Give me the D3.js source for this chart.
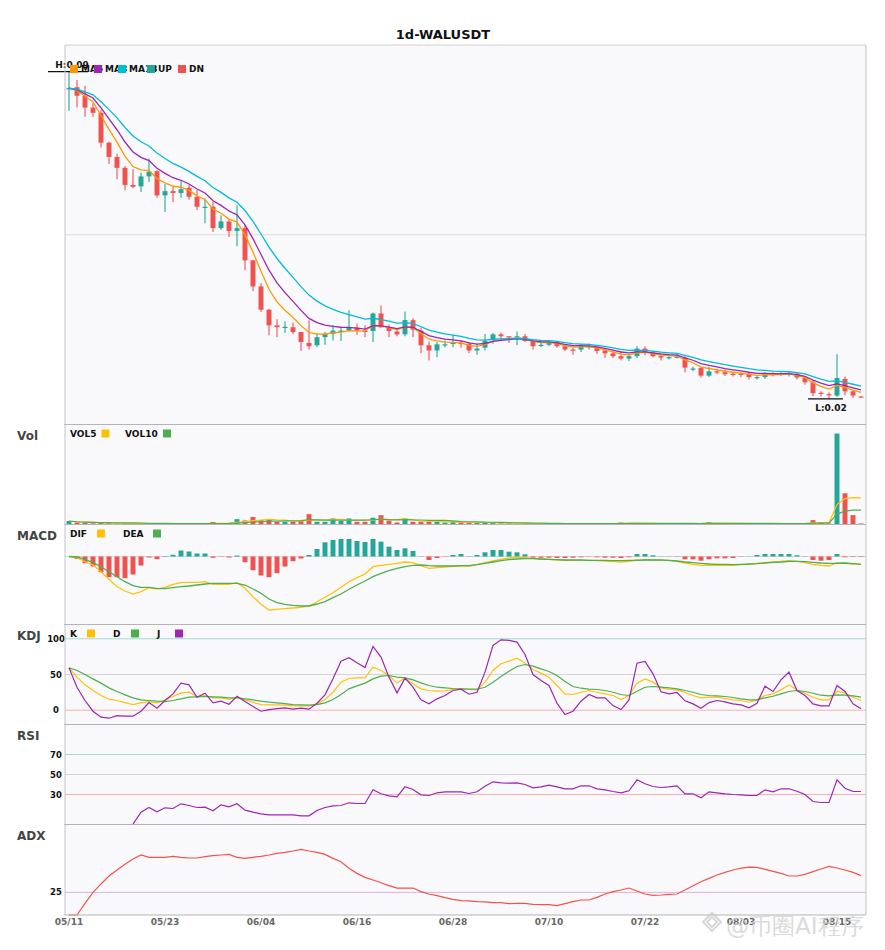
<!DOCTYPE html>
<html><head><meta charset="utf-8">
<script src="https://cdn.jsdelivr.net/npm/d3@7"></script>
<style>body{margin:0;background:#fff}svg{display:block}text{font-family:"DejaVu Sans",sans-serif}</style>
</head><body><div id="chart"></div>
<script>
const symbol = "1d-WALUSDT";
const startDate = new Date(2025, 4, 11);
const tickLabels = ["05/11","05/23","06/04","06/16","06/28","07/10","07/22","08/03","08/15"];

const opens = [
.0858,.0861,.0843,.0818,.0807,.0744,.0714,.0691,.0655,.0652,
.0673,.0684,.0633,.0642,.0638,.0649,.0630,.0608,.0609,.0564,
.0578,.0558,.0564,.0496,.0441,.0392,.0359,.0355,.0355,.0345,
.0322,.0317,.0334,.0341,.0347,.0348,.0354,.0348,.0347,.0384,
.0355,.0346,.0340,.0370,.0348,.0317,.0306,.0318,.0320,.0322,
.0320,.0306,.0312,.0329,.0340,.0336,.0334,.0336,.0326,.0317,
.0318,.0324,.0315,.0308,.0308,.0313,.0313,.0306,.0300,.0294,
.0289,.0294,.0310,.0302,.0294,.0291,.0291,.0291,.0267,.0269,
.0253,.0262,.0260,.0257,.0257,.0257,.0249,.0250,.0257,.0256,
.0256,.0257,.0248,.0239,.0217,.0214,.0211,.0246,.0220,.0209];
const highs = [
.0894,.0876,.0864,.0827,.0813,.0746,.0721,.0695,.0688,.0681,
.0711,.0686,.0657,.0652,.0663,.0655,.0644,.0626,.0619,.0591,
.0582,.0612,.0570,.0496,.0448,.0394,.0372,.0367,.0365,.0345,
.0370,.0343,.0345,.0360,.0355,.0391,.0363,.0359,.0386,.0401,
.0361,.0350,.0388,.0374,.0354,.0325,.0324,.0327,.0339,.0327,
.0324,.0320,.0341,.0343,.0344,.0336,.0346,.0341,.0329,.0324,
.0327,.0326,.0318,.0312,.0320,.0320,.0317,.0310,.0305,.0305,
.0299,.0315,.0315,.0305,.0299,.0294,.0299,.0294,.0272,.0271,
.0272,.0268,.0266,.0260,.0260,.0259,.0253,.0260,.0260,.0260,
.0260,.0259,.0251,.0243,.0220,.0218,.0298,.0251,.0220,.0210];
const lows = [
.0811,.0818,.0799,.0799,.0734,.0699,.0667,.0644,.0648,.0640,
.0661,.0628,.0598,.0619,.0628,.0624,.0602,.0574,.0556,.0560,
.0545,.0526,.0475,.0431,.0387,.0338,.0334,.0343,.0340,.0305,
.0308,.0313,.0318,.0327,.0326,.0345,.0339,.0334,.0324,.0354,
.0334,.0336,.0336,.0334,.0300,.0285,.0292,.0313,.0313,.0312,
.0300,.0297,.0306,.0320,.0329,.0322,.0317,.0324,.0308,.0313,
.0315,.0312,.0305,.0297,.0303,.0308,.0299,.0290,.0290,.0285,
.0284,.0290,.0296,.0292,.0285,.0287,.0289,.0260,.0262,.0249,
.0250,.0256,.0252,.0251,.0250,.0245,.0245,.0246,.0251,.0252,
.0251,.0245,.0234,.0210,.0209,.0204,.0208,.0211,.0206,.0208];
const closes = [
.0859,.0843,.0818,.0807,.0744,.0714,.0691,.0655,.0651,.0673,
.0683,.0633,.0642,.0638,.0646,.0630,.0609,.0609,.0564,.0578,
.0558,.0564,.0496,.0441,.0392,.0359,.0355,.0356,.0345,.0324,
.0315,.0334,.0341,.0348,.0348,.0354,.0347,.0345,.0384,.0355,
.0347,.0340,.0370,.0350,.0317,.0306,.0319,.0319,.0322,.0320,
.0306,.0310,.0326,.0340,.0336,.0334,.0336,.0326,.0315,.0318,
.0324,.0315,.0308,.0307,.0315,.0315,.0305,.0300,.0294,.0289,
.0294,.0310,.0303,.0294,.0291,.0292,.0293,.0270,.0268,.0253,
.0262,.0260,.0256,.0256,.0255,.0250,.0250,.0257,.0255,.0257,
.0257,.0249,.0239,.0216,.0215,.0213,.0248,.0220,.0211,.0208];
// volume, millions
const volumes = [
3.5,2.0,1.5,1.2,1.5,1.3,1.2,1.0,0.8,0.8,
0.8,1.0,0.8,0.6,0.8,0.6,0.8,1.0,2.5,1.0,
1.2,5.3,4.0,7.5,4.3,5.0,2.7,2.7,2.7,3.7,
10.3,2.7,2.7,6.0,3.7,6.0,2.7,2.7,6.7,9.3,
3.7,2.0,6.0,2.7,2.7,2.7,2.7,2.0,2.7,2.0,
2.0,2.0,1.8,1.5,1.2,1.0,1.0,0.9,0.9,0.8,
0.8,0.9,0.8,0.8,0.9,0.8,0.8,1.3,1.0,2.0,
1.0,1.2,1.0,0.9,0.8,0.8,0.8,1.5,0.8,1.2,
2.3,0.8,0.8,0.8,0.8,0.9,0.8,1.0,0.8,0.8,
0.8,1.0,1.0,4.3,2.3,1.0,90.3,31.0,9.3,1.0];
const difValues = [
0,-0.00012,-0.00052,-0.00085,-0.00152,-0.00228,-0.00302,-0.00345,-0.00375,-0.00352,
-0.00312,-0.00325,-0.00308,-0.00278,-0.00262,-0.00258,-0.00258,-0.00252,-0.00278,-0.00278,
-0.00278,-0.00262,-0.00318,-0.00402,-0.00478,-0.00535,-0.00528,-0.00522,-0.00515,-0.00508,
-0.00495,-0.00452,-0.00408,-0.00362,-0.00308,-0.00252,-0.00212,-0.00175,-0.00102,-0.00088,
-0.00078,-0.00068,-0.00055,-0.00062,-0.00092,-0.00118,-0.00112,-0.00105,-0.00098,-0.00095,
-0.00095,-0.00082,-0.00062,-0.00045,-0.00028,-0.00015,-0.00008,-0.00012,-0.00018,-0.00025,
-0.00028,-0.00035,-0.00038,-0.00038,-0.00038,-0.00038,-0.00042,-0.00045,-0.00048,-0.00055,
-0.00048,-0.00035,-0.00032,-0.00035,-0.00038,-0.00038,-0.00048,-0.00065,-0.00078,-0.00088,
-0.00088,-0.00088,-0.00088,-0.00088,-0.00082,-0.00078,-0.00068,-0.00062,-0.00055,-0.00048,
-0.00042,-0.00048,-0.00062,-0.00078,-0.00088,-0.00095,-0.00062,-0.00068,-0.00075,-0.00078];
const deaValues = [
0,-0.00005,-0.00028,-0.00062,-0.00102,-0.00152,-0.00202,-0.00252,-0.00292,-0.00308,
-0.00308,-0.00318,-0.00322,-0.00312,-0.00302,-0.00295,-0.00285,-0.00275,-0.00268,-0.00268,
-0.00268,-0.00268,-0.00285,-0.00325,-0.00368,-0.00425,-0.00462,-0.00478,-0.00488,-0.00495,
-0.00495,-0.00475,-0.00452,-0.00412,-0.00375,-0.00328,-0.00285,-0.00245,-0.00202,-0.00168,
-0.00142,-0.00118,-0.00102,-0.00088,-0.00085,-0.00092,-0.00095,-0.00095,-0.00095,-0.00092,
-0.00092,-0.00082,-0.00068,-0.00055,-0.00042,-0.00032,-0.00025,-0.00022,-0.00022,-0.00025,
-0.00028,-0.00032,-0.00035,-0.00035,-0.00035,-0.00038,-0.00038,-0.00038,-0.00042,-0.00042,
-0.00038,-0.00038,-0.00035,-0.00035,-0.00035,-0.00038,-0.00045,-0.00055,-0.00062,-0.00068,
-0.00075,-0.00078,-0.00078,-0.00082,-0.00078,-0.00075,-0.00072,-0.00065,-0.00058,-0.00055,
-0.00048,-0.00048,-0.00052,-0.00058,-0.00065,-0.00068,-0.00068,-0.00065,-0.00072,-0.00078];
const macdHist = [
0,-0.00023,-0.00067,-0.00100,-0.00157,-0.00207,-0.00207,-0.00217,-0.00180,-0.00090,
-0.00010,-0.00027,0.00005,0.00017,0.00060,0.00050,0.00030,0.00030,-0.00013,-0.00003,
-0.00010,0.00010,-0.00057,-0.00137,-0.00190,-0.00207,-0.00167,-0.00100,-0.00047,-0.00020,
0.00015,0.00075,0.00142,0.00165,0.00175,0.00175,0.00155,0.00145,0.00175,0.00148,
0.00098,0.00065,0.00082,0.00055,-0.00003,-0.00035,-0.00015,-0.00003,0.00015,0.00025,
0.00003,0.00015,0.00042,0.00065,0.00065,0.00048,0.00042,0.00022,-0.00012,-0.00012,
-0.00012,-0.00015,-0.00015,-0.00012,-0.00008,-0.00002,-0.00008,-0.00012,-0.00012,-0.00015,
-0.00008,0.00025,0.00025,0.00012,0.00002,0.00002,-0.00003,-0.00028,-0.00028,-0.00042,
-0.00028,-0.00018,-0.00018,-0.00015,-0.00003,0.00002,0.00015,0.00025,0.00025,0.00025,
0.00025,0.00012,-0.00003,-0.00035,-0.00042,-0.00035,0.00025,-0.00008,-0.00005,-0.00005];
const kValues = [
59.3,46.3,35.5,27.6,20.6,15.4,13.6,10.7,7.9,10.3,
12.1,10.3,14.5,19.2,24.3,25.2,19.2,20.6,17.3,17.3,
15.0,18.2,14.5,11.2,7.9,7.5,7.5,7.0,6.1,6.1,
6.1,8.9,15.0,25.2,39.3,44.4,45.3,45.3,60.3,55.6,
48.6,38.3,44.9,36.9,29.9,27.6,26.6,27.1,29.0,29.9,
29.0,28.5,39.3,55.6,65.0,68.7,72.9,65.9,57.0,51.9,
46.3,34.6,22.9,22.0,25.2,27.6,25.2,22.9,20.6,15.0,
20.6,37.9,43.9,39.3,31.3,29.0,28.5,24.8,20.6,17.3,
18.2,18.2,16.4,14.5,13.6,11.2,14.5,20.6,22.9,28.5,
35.5,28.5,23.8,18.2,14.5,14.5,26.2,24.3,18.2,13.6];
const dValues = [
59.3,55.6,50.0,43.9,37.9,31.3,26.2,21.5,17.3,14.5,
13.6,12.6,12.1,13.6,15.9,18.2,18.7,19.2,18.7,18.2,
17.3,17.3,15.9,14.5,12.6,11.2,10.3,9.3,7.9,7.5,
7.0,7.9,10.3,15.0,22.0,29.9,34.1,37.9,43.9,47.7,
48.6,46.3,45.3,42.5,38.3,34.6,32.2,31.3,30.4,29.9,
29.4,29.4,32.2,39.3,47.2,54.7,61.2,64.0,61.7,57.9,
54.2,48.6,40.2,33.2,30.8,29.4,29.0,27.6,25.2,22.0,
20.6,26.6,32.2,33.2,32.2,31.3,29.9,27.6,25.2,22.0,
20.6,20.1,19.2,17.8,15.9,14.5,14.5,17.3,19.6,22.9,
26.2,27.6,26.2,23.8,21.0,20.1,21.5,21.0,20.1,18.2];
const jValues = [
59.3,32.2,13.6,-1.4,-9.8,-11.2,-7.5,-8.4,-8.4,-1.4,
10.7,2.8,13.6,22.9,37.9,35.5,18.2,23.8,10.3,12.6,
8.4,19.6,12.1,5.1,-1.4,0.9,2.3,3.3,1.4,2.8,
1.4,9.8,21.5,43.9,68.7,73.4,66.4,59.8,89.3,74.3,
46.3,24.3,44.9,32.2,14.5,8.9,15.9,20.6,27.6,29.4,
22.4,25.2,53.3,90.7,98.6,97.7,95.3,78.0,50.0,41.6,
34.6,9.8,-6.1,-1.4,12.6,22.0,17.3,17.3,6.5,0.9,
14.5,65.9,68.2,50.9,25.7,22.9,24.8,13.1,8.9,2.8,
10.7,13.6,11.7,8.9,7.5,3.3,9.8,33.6,26.2,42.5,
53.3,27.6,20.6,8.9,6.1,6.1,34.6,26.2,8.9,1.9];
const rsiValues = [null,null,null,null,null,null,null,null,
0.3,12.3,17.0,12.7,16.7,16.0,20.7,19.0,17.0,17.3,
13.7,19.7,17.7,20.7,14.3,12.3,10.7,9.7,9.7,9.7,
9.7,8.7,8.7,14.0,17.0,18.7,19.0,21.7,21.0,21.0,
34.7,30.7,28.7,27.7,37.7,35.0,29.7,29.0,31.7,32.7,
32.7,32.7,31.0,32.7,38.3,42.7,41.7,41.3,41.7,40.0,
36.7,37.7,39.3,37.7,35.7,35.7,38.7,38.7,35.7,34.7,
33.0,31.7,33.7,44.7,40.7,38.0,37.0,37.7,38.7,30.7,
30.7,26.7,32.7,31.7,30.7,30.0,29.7,29.0,29.0,34.7,
32.7,35.7,35.7,33.3,30.0,23.0,22.0,22.0,44.7,36.3,
33.0,33.0];
const adxValues = [
0,0,12.9,25.0,34.3,43.1,49.7,56.0,61.9,66.3,
63.7,63.7,63.7,64.8,63.7,63.0,63.0,64.5,65.6,66.3,
67.0,63.7,62.6,63.7,64.8,66.3,68.1,69.2,70.7,72.5,
70.7,69.2,67.0,62.6,58.9,51.6,46.0,41.6,38.7,35.7,
32.4,29.8,29.8,29.8,25.8,23.2,21.4,19.2,17.3,15.8,
15.5,14.7,14.4,13.6,13.6,12.5,12.9,12.9,11.8,11.4,
11.4,10.3,12.5,14.7,16.6,16.6,19.5,23.2,25.8,27.6,
29.8,26.5,23.2,21.7,22.1,22.8,23.2,27.6,32.4,36.8,
40.5,44.2,47.1,49.7,51.9,53.0,52.7,50.4,48.2,46.0,
43.1,43.1,44.9,47.9,50.8,53.8,51.9,49.7,47.1,43.5];
const maPeriods = [5, 8, 13];
const volMaPeriods = [5, 10];

// ---------- styles / layout ----------
const C = {up:"#26a69a", dn:"#ef5350", ma:["#ff9800","#9c27b0","#00bcd4"],
  yel:"#ffc107", grn:"#4caf50", pur:"#9c27b0", adx:"#f4514b",
  bg:"#f9f9fc", sep:"#b4b4b8", hi:"#a3d9d4", mid:"#d4d4d8", lo:"#f6b2b2", adx25:"#ddb0e4"};
const W = 885, H = 950, L = 65, R = 866;
const P = {main:[45,424.5], vol:[424.5,524.5], macd:[524.5,624.5], kdj:[624.5,724.5], rsi:[724.5,824.5], adx:[824.5,915]};
const n = closes.length;
const dates = d3.timeDay.range(startDate, d3.timeDay.offset(startDate, n));
const fmtDate = d3.timeFormat("%m/%d");

const ema = (arr, p) => { const a = 2/(p+1), out = []; arr.forEach((v,i)=>out.push(i===0 ? v : out[i-1] + a*(v-out[i-1]))); return out; };
const sma = (arr, p) => arr.map((v,i)=>d3.mean(arr.slice(Math.max(0,i-p+1), i+1)));

const svg = d3.select("#chart").append("svg").attr("width",W).attr("height",H);
const x = d3.scaleBand().domain(d3.range(n)).range([L, L+8*n]);
const cx = i => x(i) + x.bandwidth()/2;
const bw = x.bandwidth()*0.62;
const isUp = i => closes[i] >= opens[i];

svg.append("rect").attr("x",L).attr("y",P.main[0]).attr("width",R-L).attr("height",P.adx[1]-P.main[0]).attr("fill",C.bg);

svg.append("text").attr("x",443).attr("y",39).attr("text-anchor","middle")
  .attr("font-size",13).attr("font-weight","bold").attr("fill","#111").text(symbol);

// ---------- main ----------
const yP = d3.scaleLinear().domain([0.015, 0.095]).range([P.main[1], P.main[0]]);
svg.append("line").attr("x1",L).attr("x2",R).attr("y1",yP(0.055)).attr("y2",yP(0.055)).attr("stroke","#dcdce0");
const gC = svg.append("g");
gC.selectAll("line").data(d3.range(n)).join("line")
  .attr("x1",cx).attr("x2",cx).attr("y1",i=>yP(highs[i])).attr("y2",i=>yP(lows[i]))
  .attr("stroke",i=>isUp(i)?C.up:C.dn).attr("stroke-width",1.1);
gC.selectAll("rect").data(d3.range(n)).join("rect")
  .attr("x",i=>cx(i)-bw/2).attr("width",bw)
  .attr("y",i=>yP(Math.max(opens[i],closes[i])))
  .attr("height",i=>Math.max(1.2, Math.abs(yP(opens[i])-yP(closes[i]))))
  .attr("fill",i=>isUp(i)?C.up:C.dn);
maPeriods.forEach((p,k)=>{
  const m = ema(closes, p);
  svg.append("path").datum(d3.range(n)).attr("fill","none").attr("stroke",C.ma[k]).attr("stroke-width",1.3)
    .attr("d", d3.line().x(cx).y(i=>yP(m[i])));
});
// high / low markers
const hiI = d3.maxIndex(highs), loI = d3.minIndex(lows);
svg.append("line").attr("x1",cx(hiI)-21).attr("x2",cx(hiI)+19).attr("y1",yP(highs[hiI])).attr("y2",yP(highs[hiI])).attr("stroke","#111").attr("stroke-width",1.2);
svg.append("text").attr("x",cx(hiI)+3).attr("y",yP(highs[hiI])-3.5).attr("text-anchor","middle").attr("font-size",9).attr("font-weight","bold").attr("fill","#111").text("H:"+d3.format(".2f")(highs[hiI]));
svg.append("line").attr("x1",cx(loI)-21).attr("x2",cx(loI)+14).attr("y1",yP(lows[loI])).attr("y2",yP(lows[loI])).attr("stroke","#111").attr("stroke-width",1.2);
svg.append("text").attr("x",cx(loI)+2).attr("y",yP(lows[loI])+12).attr("text-anchor","middle").attr("font-size",9).attr("font-weight","bold").attr("fill","#111").text("L:"+d3.format(".2f")(lows[loI]));
// main legend
const mainLeg = [{t:"MA"+maPeriods[0],c:C.ma[0],x:70},{t:"MA"+maPeriods[1],c:C.ma[1],x:94},{t:"MA"+maPeriods[2],c:C.ma[2],x:118},{t:"UP",c:C.up,x:147},{t:"DN",c:C.dn,x:178}];
mainLeg.forEach(d=>svg.append("text").attr("x",d.x+11).attr("y",72).attr("font-size",9).attr("font-weight","bold").attr("fill","#111").text(d.t));
mainLeg.forEach(d=>svg.append("rect").attr("x",d.x).attr("y",65).attr("width",8).attr("height",8).attr("fill",d.c));

// ---------- helpers ----------
function panelLabel(t, top){ svg.append("text").attr("x",17).attr("y",top+15).attr("font-size",12).attr("font-weight","bold").attr("fill","#444").text(t); }
function legend(items, top){
  items.forEach(d=>{
    svg.append("text").attr("x",d.x).attr("y",top+12).attr("font-size",9).attr("font-weight","bold").attr("fill","#111").text(d.t);
    svg.append("rect").attr("x",d.sq).attr("y",top+5).attr("width",8).attr("height",8).attr("fill",d.c);
  });
}
function hline(y, color){ svg.append("line").attr("x1",L).attr("x2",R).attr("y1",y).attr("y2",y).attr("stroke",color).attr("stroke-width",1); }
function ylab(y, t){ svg.append("text").attr("x",56).attr("y",y+3).attr("text-anchor","middle").attr("font-size",8.5).attr("font-weight","bold").attr("fill","#111").text(t); }
function drawLine(vals, y, color, w){
  svg.append("path").datum(d3.range(n)).attr("fill","none").attr("stroke",color).attr("stroke-width",w||1.2)
    .attr("d", d3.line().defined(i=>vals[i]!=null).x(cx).y(i=>y(vals[i])));
}

// ---------- volume ----------
const yV = d3.scaleLinear().domain([0, d3.max(volumes)*1.1]).range([P.vol[1], P.vol[0]]);
svg.append("g").selectAll("rect").data(d3.range(n)).join("rect")
  .attr("x",i=>cx(i)-bw/2).attr("width",bw).attr("y",i=>yV(volumes[i]))
  .attr("height",i=>yV(0)-yV(volumes[i])).attr("fill",i=>isUp(i)?C.up:C.dn);
drawLine(sma(volumes, volMaPeriods[0]), yV, C.yel, 1.2);
drawLine(sma(volumes, volMaPeriods[1]), yV, C.grn, 1.2);
panelLabel("Vol", P.vol[0]);
legend([{t:"VOL"+volMaPeriods[0],c:C.yel,x:70,sq:101.5},{t:"VOL"+volMaPeriods[1],c:C.grn,x:125,sq:163}], P.vol[0]);

// ---------- MACD ----------
const yM = d3.scaleLinear().domain([-0.0068, 0.0032]).range([P.macd[1], P.macd[0]]);
hline(yM(0), C.mid);
svg.append("g").selectAll("rect").data(d3.range(n)).join("rect")
  .attr("x",i=>cx(i)-bw/2).attr("width",bw)
  .attr("y",i=>Math.min(yM(0), yM(macdHist[i])))
  .attr("height",i=>Math.abs(yM(macdHist[i])-yM(0)))
  .attr("fill",i=>macdHist[i]>=0?C.up:C.dn);
drawLine(difValues, yM, C.yel, 1.3);
drawLine(deaValues, yM, C.grn, 1.3);
panelLabel("MACD", P.macd[0]);
legend([{t:"DIF",c:C.yel,x:70,sq:97},{t:"DEA",c:C.grn,x:123,sq:153}], P.macd[0]);

// ---------- KDJ ----------
const yK = d3.scaleLinear().domain([-20, 120]).range([P.kdj[1], P.kdj[0]]);
hline(yK(100), C.hi); hline(yK(50), C.mid); hline(yK(0), C.lo);
[100,50,0].forEach(v=>ylab(yK(v), v));
drawLine(kValues, yK, C.yel, 1.2);
drawLine(dValues, yK, C.grn, 1.2);
drawLine(jValues, yK, C.pur, 1.2);
panelLabel("KDJ", P.kdj[0]);
legend([{t:"K",c:C.yel,x:70,sq:87},{t:"D",c:C.grn,x:113,sq:131},{t:"J",c:C.pur,x:157,sq:175}], P.kdj[0]);

// ---------- RSI ----------
const yR = d3.scaleLinear().domain([0, 100]).range([P.rsi[1], P.rsi[0]]);
hline(yR(70), C.hi); hline(yR(50), C.mid); hline(yR(30), C.lo);
[70,50,30].forEach(v=>ylab(yR(v), v));
drawLine(rsiValues, yR, C.pur, 1.2);
panelLabel("RSI", P.rsi[0]);

// ---------- ADX ----------
const yA = d3.scaleLinear().domain([0, 100]).range([P.adx[1], P.adx[0]]);
hline(yA(25), C.adx25);
ylab(yA(25), 25);
drawLine(adxValues, yA, C.adx, 1.2);
panelLabel("ADX", P.adx[0]);

// ---------- frame ----------
[P.vol[0], P.macd[0], P.kdj[0], P.rsi[0], P.adx[0], P.adx[1]].forEach(y=>
  svg.append("line").attr("x1",L-1).attr("x2",R).attr("y1",y).attr("y2",y).attr("stroke",C.sep).attr("stroke-width",1.2));
svg.append("line").attr("x1",L).attr("x2",R).attr("y1",P.main[0]).attr("y2",P.main[0]).attr("stroke","#d0d0d4");
svg.append("line").attr("x1",L).attr("x2",L).attr("y1",P.main[0]).attr("y2",P.adx[1]).attr("stroke","#c4c4c8");
svg.append("line").attr("x1",R).attr("x2",R).attr("y1",P.main[0]).attr("y2",P.adx[1]).attr("stroke","#c4c4c8");

// ---------- x labels ----------
tickLabels.forEach(t=>{
  const i = dates.findIndex(d=>fmtDate(d)===t);
  if (i>=0) svg.append("text").attr("x",cx(i)).attr("y",925).attr("text-anchor","middle")
    .attr("font-size",9).attr("font-weight","bold").attr("fill","#666").text(t);
});

// ---------- watermark ----------
const wm = svg.append("g").attr("opacity",0.75);
[[712,922,9],[712,922,5]].forEach(([wx,wy,s])=>wm.append("path")
  .attr("d",`M${wx},${wy-s}L${wx+s},${wy}L${wx},${wy+s}L${wx-s},${wy}Z`).attr("fill","none").attr("stroke","#ccc").attr("stroke-width",2));
wm.append("text").attr("x",726).attr("y",934).attr("font-size",23)
  .attr("font-family","'Noto Sans CJK SC',sans-serif").attr("fill","#cfcfcf").text("@币圈AI程序");
</script></body></html>
